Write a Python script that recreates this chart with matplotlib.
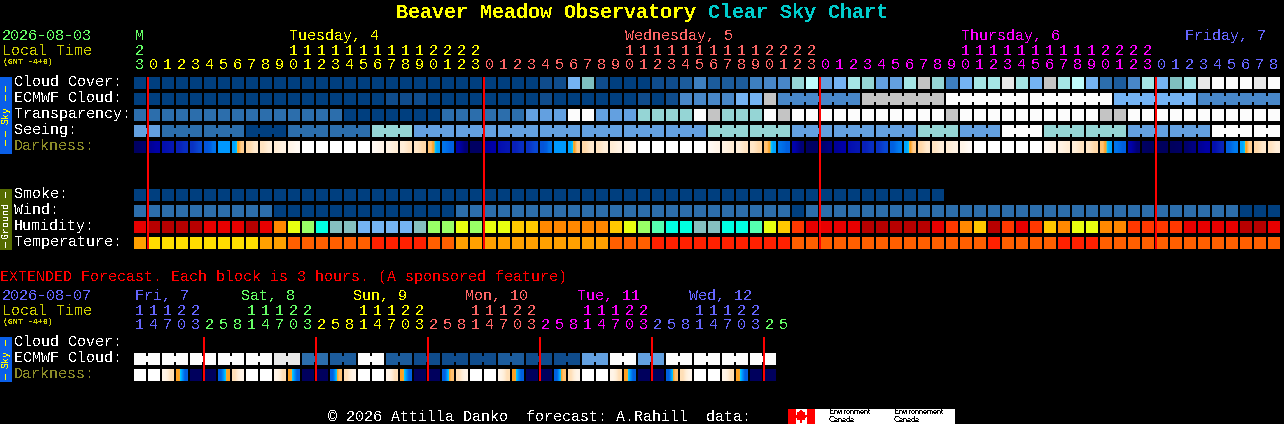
import numpy as np
import matplotlib
matplotlib.use('Agg')
import matplotlib.pyplot as plt
from matplotlib.colors import LinearSegmentedColormap
from matplotlib.patches import Rectangle, Polygon

plt.rcParams['text.hinting'] = 'native'
plt.rcParams['text.hinting_factor'] = 1

# colours of the blocks
blues = ['#003f7f', '#0f4c8c', '#1c5c9c', '#2c6eac', '#3d7fc0', '#4887c8', '#63a0e0', '#74b3f3',
         '#7fbfbf', '#95d5d5', '#a5e5e5', '#bffcfc', '#c4c4c4', '#e8e8e8', '#fcfcfc']
hum_colors = {'a': '#b80000', 'b': '#e80000', 'c': '#ff3800', 'd': '#ff8800', 'e': '#ffc800',
              'f': '#e8ff10', 'g': '#99ff66', 'h': '#55ffb0', 'i': '#00ffe0', 'j': '#85bfbf', 'k': '#74b3f3'}
temp_colors = {'y': '#ffdd00', 'o': '#ffa000', 'p': '#ff5f00', 'r': '#ff2000'}

cloud = [0,0,0,0,0,0,0,0,0,0,0,0,0,0,0,0,0,0,0,0,0,0,0,0,0,0,0,0,0,1,1,7,8,1,0,0,0,1,1,2,4,2,2,2,4,5,5,9,11,6,
         7,10,9,6,6,10,12,9,4,7,10,10,13,10,7,12,10,11,7,3,2,5,10,7,8,10,13,14,14,14,13,14]
ecmwf = [0,0,0,0,0,0,0,0,0,0,0,0,0,0,0,0,0,0,1,1,1,0,0,0,0,0,0,0,0,1,0,0,0,0,0,0,1,0,1,5,5,5,5,7,7,12,
         5,5,5,5,5,5,12,12,12,12,12,12,14,14,14,14,14,14,14,14,14,14,14,14,7,7,7,7,7,7,5,5,5,5,5,5]
transp = [3,3,3,3,3,3,3,3,3,3,3,3,3,3,3,0,0,0,0,0,0,0,3,3,3,3,3,3,6,6,6,14,14,6,6,6,9,9,9,9,14,12,9,9,9,14,12,14,
          14,14,14,14,14,14,14,14,14,14,12,14,14,14,14,14,14,14,14,14,14,12,12,14,14,14,14,14,14,14,14,14,14,14]
seeing = [6,6,3,3,3,3,3,3,0,0,0,3,3,3,3,3,3,9,9,9,6,6,6,6,6,6,6,6,6,6,6,6,6,6,6,6,6,6,6,6,6,9,9,9,9,9,9,6,6,6,6,6,6,
          6,6,6,9,9,9,6,6,6,14,14,14,9,9,9,9,9,9,6,6,6,6,6,6,14,14,14,14,14]
smoke = [0] * 58
wind = [3,3,3,3,3,3,3,3,3,3,0,0,0,0,0,0,0,0,0,0,0,0,0,3,3,3,3,3,3,3,3,3,3,3,3,3,3,3,3,3,3,3,3,3,3,3,3,0,3,3,3,3,3,3,3,
        3,3,3,3,3,3,3,3,3,3,3,3,3,3,3,3,3,3,3,3,3,3,3,3,0,0,0]
humidity = 'baaaabbbabdfgijjkkkkjggfgffeedddddefghiijjiihfecbbbbaaaaabcdeacbcedffddccccbbbbaab'
temperature = 'oyyyyyyyyoopppppprrrrppoooooooooooppprrrrrrrrrrpppppppppppppprpppprrrpppppppppppppp'[:82]

# groups of cells which are joined (first col, last col)
seeing_groups = [(0, 1), (2, 4), (5, 7), (8, 10), (11, 13), (14, 16), (17, 19), (20, 22), (23, 25), (26, 28), (29, 31),
                 (32, 34), (35, 37), (38, 40), (41, 43), (44, 46), (47, 49), (50, 52), (53, 55), (56, 58), (59, 61),
                 (62, 64), (65, 67), (68, 70), (71, 73), (74, 76), (77, 79), (80, 81)]
ecmwf_groups = [(46, 51), (52, 57), (58, 63), (64, 69), (70, 75), (76, 81)]

# darkness, value at left and right of each cell
dark_vals = [(2, 4), (12, 15), (20, 22), (25, 29), (30, 36), (39, 44), (48, 48), (49, 59), (60, 72), (68, 76), (74, 82), (85, 92),
             (100, 100), (100, 100), (100, 100), (100, 100), (100, 100), (92, 85), (82, 74), (76, 68), (70, 60), (58, 49),
             (44, 42), (16, 6), (2, 2), (12, 15), (20, 22), (25, 29), (30, 36), (39, 44), (48, 48), (49, 59), (60, 72), (68, 76), (74, 82), (88, 94),
             (100, 100), (100, 100), (100, 100), (100, 100), (100, 100), (92, 85), (82, 74), (76, 68), (70, 60), (58, 49),
             (44, 42), (16, 6), (2, 2), (4, 8), (12, 15), (20, 22), (25, 29), (30, 36), (42, 45), (49, 59), (60, 72), (68, 76), (74, 82), (85, 94),
             (100, 100), (100, 100), (100, 100), (100, 100), (100, 100), (92, 85), (82, 74), (76, 68), (70, 60), (58, 49),
             (44, 42), (16, 6), (2, 1), (1, 1), (1, 2), (4, 8), (12, 15), (20, 26), (42, 45), (49, 59), (60, 72), (68, 76)]

dark_stops = [(0, '#000058'), (15, '#0000a8'), (25, '#0820b8'), (35, '#0a45d0'), (42, '#0060e0'), (48, '#0099ff'),
              (52, '#00ccff'), (53, '#e8b040'), (55, '#ffa020'), (60, '#ffd8a8'), (75, '#ffeed8'), (90, '#fff8f0'), (100, '#ffffff')]

# extended forecast
ext_cloud = [14,14,14,14,14,14,14,14,14,14,13,13,3,3,2,2,14,14,2,2,1,1,1,1,1,1,2,2,1,1,1,1,6,6,14,14,6,6,14,14,14,14,14,14,14,14]
ext_groups = [(0, 1), (2, 3), (4, 5), (6, 7), (8, 9), (10, 11), (12, 13), (14, 15), (16, 17), (18, 19), (20, 21), (22, 23),
              (24, 25), (26, 27), (28, 29), (30, 31), (32, 33), (34, 35), (36, 37), (38, 39), (40, 41), (42, 43), (44, 45)]
ext_dark = [(100, 100), (100, 100), (85, 65), (55, 42), (1, 1), (1, 1), (42, 55), (65, 85), (100, 100), (100, 100), (85, 65), (55, 42),
            (1, 1), (1, 1), (42, 58), (65, 85), (100, 100), (100, 100), (85, 65), (55, 42), (1, 1), (1, 1), (42, 58), (65, 85),
            (100, 100), (100, 100), (85, 65), (55, 42), (1, 1), (1, 1), (42, 58), (65, 85), (100, 100), (100, 100), (85, 65), (55, 42),
            (1, 1), (1, 1), (42, 58), (65, 85), (100, 100), (100, 100), (85, 65), (55, 42), (1, 1), (1, 1)]

# hour headers
tens = '2          11111111112222          11111111112222          11111111112222'
ones = '3012345678901234567890123012345678901234567890123012345678901234567890123012345678'
day_starts = [1, 25, 49, 73]
day_names = [(0, 'M'), (11, 'Tuesday, 4'), (35, 'Wednesday, 5'), (59, 'Thursday, 6'), (75, 'Friday, 7')]
day_cols = ['#66ff66', '#ffff00', '#ff6666', '#ff00ff', '#6666ff']

ext_tens = '11122   11122   11122   11122   11122   11122'
ext_ones = '14703258147032581470325814703258147032581470325'
ext_starts = [5, 13, 21, 29, 37, 45]
ext_names = [(0, 'Fri, 7'), (8, 'Sat, 8'), (16, 'Sun, 9'), (24, 'Mon, 10'), (32, 'Tue, 11'), (40, 'Wed, 12')]
ext_cols = ['#6666ff', '#66ff66', '#ffff00', '#ff6666', '#ff00ff', '#6666ff', '#66ff66']

sky_labels = ['Cloud Cover:', 'ECMWF Cloud:', 'Transparency:', 'Seeing:', 'Darkness:']
ground_labels = ['Smoke:', 'Wind:', 'Humidity:', 'Temperature:']

X0 = 134
STEP = 14
CELL = 12
MONO = 'Liberation Mono'


def col_x(i):
    return X0 + STEP * i


def draw_row(ax, y, colors):
    for i, c in enumerate(colors):
        ax.add_patch(Rectangle((col_x(i), y), CELL, CELL, fc=c, ec='none', aa=False))


def draw_bridges(ax, y, colors, groups):
    # the small link between cells of one block
    for first, last in groups:
        for i in range(first, last):
            ax.add_patch(Rectangle((col_x(i) + CELL, y + 3), 2, 6, fc=colors[i], ec='none', aa=False))


def draw_dark(ax, y, vals, cmap):
    for i, (left, right) in enumerate(vals):
        ax.imshow([[left, right]], cmap=cmap, vmin=0, vmax=100, interpolation='bilinear', aspect='auto',
                  extent=(col_x(i), col_x(i) + CELL, y + CELL, y), zorder=2)


def txt(ax, x, y, s, color='white', size=10.8, **kw):
    kw.setdefault('family', MONO)
    ax.text(x, y + 1, s, color=color, fontsize=size, va='center', antialiased=False, **kw)


def day_color(i, starts, cols):
    n = 0
    for s in starts:
        if i >= s:
            n += 1
    return cols[n]


def side_bar(ax, y, h, name, color, facecolor, dash_gap):
    ax.add_patch(Rectangle((0, y), 12, h, fc=facecolor, ec='none', aa=False))
    mid = y + h / 2
    txt(ax, 6, mid - 1, name, color, 7.2, rotation=90, ha='center')
    # dashes above and below the name
    for d in dash_gap:
        ax.add_patch(Rectangle((5, mid - d - 6), 1, 6, fc=color, ec='none', aa=False))
        ax.add_patch(Rectangle((5, mid + d), 1, 6, fc=color, ec='none', aa=False))


fig = plt.figure(figsize=(12.84, 4.24), dpi=100, facecolor='black')
ax = fig.add_axes([0, 0, 1, 1])
ax.set_facecolor('black')
ax.axis('off')

cmap = LinearSegmentedColormap.from_list('dark', [(v / 100, c) for v, c in dark_stops], N=512)

# title
txt(ax, 396, 11, 'Beaver Meadow Observatory', '#ffff00', 14.4, weight='bold')
txt(ax, 708, 11, 'Clear Sky Chart', '#00cccc', 14.4, weight='bold')

# header
txt(ax, 2, 35, '2026-08-03', '#66ff66')
txt(ax, 2, 50, 'Local Time', '#cccc00')
txt(ax, 3, 61, '(GMT -4+0)', '#cccc00', 5.8, weight='bold')
for col, name in day_names:
    txt(ax, col_x(col) + 1, 35, name, day_color(col, day_starts, day_cols))
for i, ch in enumerate(tens):
    if ch != ' ':
        txt(ax, col_x(i) + 1, 50, ch, day_color(i, day_starts, day_cols))
for i, ch in enumerate(ones):
    txt(ax, col_x(i) + 1, 64, ch, day_color(i, day_starts, day_cols))

# sky rows
sky_ys = [77, 93, 109, 125, 141]
rows = [cloud, ecmwf, transp, seeing]
for y, vals in zip(sky_ys, rows):
    draw_row(ax, y, [blues[v] for v in vals])
draw_bridges(ax, sky_ys[1], [blues[v] for v in ecmwf], ecmwf_groups)
draw_bridges(ax, sky_ys[3], [blues[v] for v in seeing], seeing_groups)
draw_dark(ax, sky_ys[4], dark_vals, cmap)
for y, name in zip(sky_ys, sky_labels):
    txt(ax, 14, y + 4, name, '#8c8c28' if name == 'Darkness:' else 'white')

# ground rows
ground_ys = [189, 205, 221, 237]
draw_row(ax, ground_ys[0], [blues[v] for v in smoke])
draw_row(ax, ground_ys[1], [blues[v] for v in wind])
draw_row(ax, ground_ys[2], [hum_colors[c] for c in humidity])
draw_row(ax, ground_ys[3], [temp_colors[c] for c in temperature])
for y, name in zip(ground_ys, ground_labels):
    txt(ax, 14, y + 4, name)

# midnight lines
for s in day_starts:
    ax.add_patch(Rectangle((col_x(s) - 1, 77), 2, 172, fc='#ff0000', ec='none', aa=False, zorder=5))

# side bars
side_bar(ax, 77, 77, 'Sky', '#ffff00', '#0a5fe8', [15, 24])
side_bar(ax, 189, 61, 'Ground', 'white', '#556b00', [22])
side_bar(ax, 337, 45, 'Sky', '#ffff00', '#0a5fe8', [14])

# extended
txt(ax, 0, 276, 'EXTENDED Forecast. Each block is 3 hours. (A sponsored feature)', '#ff0000')
txt(ax, 2, 295, '2026-08-07', '#6666ff')
txt(ax, 2, 310, 'Local Time', '#cccc00')
txt(ax, 3, 321, '(GMT -4+0)', '#cccc00', 5.8, weight='bold')
for (col, name), c in zip(ext_names, ext_cols):
    txt(ax, col_x(col) + (1 if col == 0 else -5), 295, name, c)
for i, ch in enumerate(ext_tens):
    if ch != ' ':
        txt(ax, col_x(i) + 1, 310, ch, day_color(i, ext_starts, ext_cols))
for i, ch in enumerate(ext_ones):
    txt(ax, col_x(i) + 1, 324, ch, day_color(i, ext_starts, ext_cols))

ext_ys = [337, 353, 369]
txt(ax, 14, ext_ys[0] + 4, 'Cloud Cover:')
txt(ax, 14, ext_ys[1] + 4, 'ECMWF Cloud:')
txt(ax, 14, ext_ys[2] + 4, 'Darkness:', '#8c8c28')
draw_row(ax, ext_ys[1], [blues[v] for v in ext_cloud])
draw_bridges(ax, ext_ys[1], [blues[v] for v in ext_cloud], ext_groups)
draw_dark(ax, ext_ys[2], ext_dark, cmap)
for s in ext_starts:
    ax.add_patch(Rectangle((col_x(s) - 1, 337), 2, 44, fc='#ff0000', ec='none', aa=False, zorder=5))

# footer
txt(ax, 328, 416, '\u00a9 2026 Attilla Danko  forecast: A.Rahill  data:')
ax.add_patch(Rectangle((788, 409), 167, 15, fc='white', ec='none', aa=False))
ax.add_patch(Rectangle((788, 409), 8, 15, fc='#ff0000', ec='none', aa=False))
ax.add_patch(Rectangle((807, 409), 8, 15, fc='#ff0000', ec='none', aa=False))
leaf = [(801, 410), (803, 413), (805, 412), (804, 415), (807, 416), (805, 418), (805, 420), (802, 419), (802, 423),
        (800, 423), (800, 419), (797, 420), (797, 418), (795, 416), (798, 415), (797, 412), (799, 413)]
ax.add_patch(Polygon(leaf, fc='#ff0000', ec='none', aa=False))
for x, a, b in [(829, 'Environment', 'Canada'), (894, 'Environnement', 'Canada')]:
    txt(ax, x, 411.5, a, 'black', 5.9, family='Liberation Sans')
    txt(ax, x, 419, b, 'black', 5.9, family='Liberation Sans')

ax.set_xlim(0, 1284)
ax.set_ylim(424, 0)
fig.savefig('out.png', dpi=100, facecolor='black')
